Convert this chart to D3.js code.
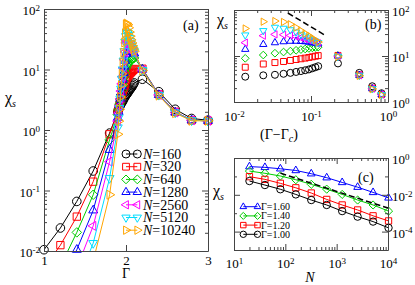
<!DOCTYPE html>
<html>
<head>
<meta charset="utf-8">
<script src="https://cdnjs.cloudflare.com/ajax/libs/d3/7.8.5/d3.min.js"></script>
<style>
  body { margin: 0; background: #fff; }
  svg, svg text { font-family: "Liberation Serif", "Times New Roman", serif; }
  .axis path, .axis line { stroke: #444; }
</style>
</head>
<body>
<div id="chart"></div>
<script>
// panel (a): chi_s vs Gamma for several N
var gammaA = [1.0, 1.2, 1.4, 1.6, 1.8,
    1.90, 1.91, 1.92, 1.93, 1.94, 1.95, 1.96, 1.97, 1.98, 1.99, 2.00,
    2.01, 2.02, 2.03, 2.04, 2.05, 2.06, 2.07, 2.08, 2.09, 2.10,
    2.2, 2.4, 2.6, 2.8, 3.0];
var sizesA = [160, 320, 640, 1280, 2560, 5120, 10240];
var chi160 = [0.0105, 0.024, 0.066, 0.21, 0.89, 2.0, 2.2, 2.4, 2.55, 2.7, 2.85, 3.0, 3.2, 3.4, 3.55, 3.8, 3.9, 4.1, 4.3, 4.5, 4.7, 4.9, 5.1, 5.4, 5.7, 6.0, 6.9, 4.3, 2.2, 1.55, 1.45];
var chi320 = [0.0052, 0.0125, 0.037, 0.14, 0.85, 2.0, 2.3, 2.6, 3.0, 3.4, 3.8, 4.3, 4.8, 5.3, 5.7, 6.7, 7.2, 7.6, 8.0, 8.4, 8.7, 9.0, 9.3, 9.6, 9.9, 10.2, 10.3, 3.9, 2.0, 1.45, 1.42];
var chi640 = [0.0028, 0.0056, 0.0203, 0.085, 0.69, 1.8, 2.2, 2.7, 3.2, 3.8, 4.5, 5.4, 6.4, 7.6, 8.9, 10.5, 11.5, 12.2, 12.8, 13.3, 13.8, 14.2, 14.6, 15.0, 15.3, 15.6, 10.2, 3.8, 1.95, 1.45, 1.42];
var chi1280 = [0.0013, 0.0028, 0.0105, 0.047, 0.47, 1.6, 2.0, 2.6, 3.3, 4.2, 5.3, 6.8, 8.8, 11.2, 14.0, 17.9, 19.5, 20.5, 21.0, 21.0, 20.8, 20.5, 20.0, 19.5, 19.0, 18.5, 10.0, 3.8, 1.95, 1.45, 1.42];
var chi2560 = [0.00065, 0.0015, 0.0052, 0.026, 0.30, 1.4, 1.9, 2.5, 3.3, 4.4, 5.8, 7.6, 10.5, 14.5, 19.5, 27.6, 29.5, 29.0, 28.0, 26.5, 25.0, 23.5, 22.0, 21.0, 20.0, 19.0, 9.8, 3.8, 1.95, 1.45, 1.42];
var chi5120 = [0.00035, 0.00072, 0.0028, 0.0135, 0.16, 1.1, 1.6, 2.3, 3.3, 4.8, 7.0, 10.0, 14.0, 20.0, 28.6, 35.5, 42.0, 40.0, 37.0, 33.0, 29.5, 27.0, 24.5, 22.5, 21.0, 19.5, 9.8, 3.8, 1.95, 1.45, 1.42];
var chi10240 = [0.00016, 0.00038, 0.0013, 0.0068, 0.085, 0.85, 1.4, 2.2, 3.5, 5.5, 8.5, 13.0, 19.0, 28.0, 39.6, 55.7, 57.5, 55.0, 49.0, 41.5, 35.5, 31.0, 27.5, 24.5, 22.0, 20.0, 9.6, 3.7, 1.9, 1.42, 1.42];
var chiA = [chi160, chi320, chi640, chi1280, chi2560, chi5120, chi10240];

// panel (b): same data against Gamma - Gamma_c
var gammaC = 1.976;
var dashBx = [0.05, 0.15];
var dashBy = [86, 28.7];

// panel (c): chi_s vs N at fixed Gamma
var nC = [20, 40, 80, 160, 320, 640, 1280, 2560, 5120, 10240];
var gammaLabels = ["1.60", "1.40", "1.20", "1.00"];
var chiG160 = [0.34, 0.31, 0.26, 0.21, 0.14, 0.085, 0.047, 0.026, 0.0135, 0.0068];
var chiG140 = [0.195, 0.148, 0.105, 0.066, 0.037, 0.0203, 0.0105, 0.0052, 0.0028, 0.0013];
var chiG120 = [0.097, 0.069, 0.042, 0.024, 0.0125, 0.0056, 0.0028, 0.0015, 0.00072, 0.00038];
var chiG100 = [0.056, 0.034, 0.020, 0.0105, 0.0052, 0.0028, 0.0013, 0.00065, 0.00035, 0.00016];
var chiC = [chiG160, chiG140, chiG120, chiG100];
var dashCx = [80, 10000];
var dashCy = [0.15, 0.0019];

// styles
var serif = "'Liberation Serif', 'Times New Roman', serif";
var colorsA = ["#000000", "#ff0000", "#00cc00", "#0000ff", "#ff00ff", "#00ddff", "#ffa500"];
var shapesA = ["circle", "square", "diamond", "up", "left", "down", "right"];
var colorsC = ["#0000ff", "#00cc00", "#ff0000", "#000000"];
var shapesC = ["up", "diamond", "square", "circle"];

function symPath(type, r) {
    if (type == "circle")
        return "M" + (-r) + ",0A" + r + "," + r + " 0 1,0 " + r + ",0A" + r + "," + r + " 0 1,0 " + (-r) + ",0Z";
    if (type == "square") {
        var s = r * 0.85;
        return "M" + (-s) + "," + (-s) + "H" + s + "V" + s + "H" + (-s) + "Z";
    }
    if (type == "diamond") {
        var q = r * 1.1;
        return "M0," + (-q) + "L" + q + ",0L0," + q + "L" + (-q) + ",0Z";
    }
    var rot = { up: 0, right: 90, down: 180, left: 270 }[type];
    var R = r * 1.2, pts = [];
    [-90, 30, 150].forEach(function (a) {
        var t = (a + rot) * Math.PI / 180;
        pts.push((R * Math.cos(t)).toFixed(2) + "," + (R * Math.sin(t)).toFixed(2));
    });
    return "M" + pts.join("L") + "Z";
}

function minorLog(domain) {
    var out = [];
    for (var e = Math.floor(Math.log10(domain[0])); e < Math.ceil(Math.log10(domain[1])); e++)
        for (var k = 2; k <= 9; k++) out.push(k * Math.pow(10, e));
    return out;
}

function powTen(g, dy) {
    g.selectAll(".tick text").each(function (d) {
        var t = d3.select(this);
        t.text("10").attr("dy", dy);
        t.append("tspan").attr("dy", "-0.5em").style("font-size", "9px")
            .text(Math.round(Math.log10(d)));
    });
}

var svg = d3.select("#chart").append("svg")
    .attr("width", 415)
    .attr("height", 285)
    .attr("font-family", serif);

// one side of a panel frame, ticks pointing inward
function side(axis, t, major, minor, labels, pad, fmt, dy) {
    if (minor) {
        var gm = svg.append("g").attr("class", "axis").attr("transform", t)
            .call(axis.tickValues(minor).tickSize(-3).tickSizeOuter(0).tickFormat(""));
        gm.select(".domain").remove();
    }
    axis.tickValues(major).tickSize(-6).tickSizeOuter(0).tickPadding(pad)
        .tickFormat(labels ? fmt : "");
    var g = svg.append("g").attr("class", "axis").attr("transform", t).call(axis);
    g.attr("font-family", serif).attr("font-size", "13px");
    g.selectAll(".tick text").attr("fill", "#000");
    if (labels && dy) powTen(g, dy);
    else g.selectAll(".tick text").attr("dy", "0.71em");
}

function frame(x, y, o) {
    var xl = x.range()[0], xr = x.range()[1], yt = y.range()[1], yb = y.range()[0];
    side(d3.axisBottom(x), "translate(0," + yb + ")", o.xMajor, o.xMinor, true, o.xPad, o.xFormat, o.xLog ? "0.71em" : null);
    side(d3.axisTop(x), "translate(0," + yt + ")", o.xMajor, o.xMinor, false, 3, null, null);
    side(d3.axisLeft(y), "translate(" + xl + ",0)", o.yMajor, o.yMinor, !o.yRight, 4, null, "0.45em");
    side(d3.axisRight(y), "translate(" + xr + ",0)", o.yMajor, o.yMinor, !!o.yRight, 4, null, "0.45em");
}

// clip region for connecting lines
svg.append("defs").append("clipPath").attr("id", "clipA").append("rect")
    .attr("x", 44).attr("y", 9).attr("width", 164).attr("height", 242);

// ---------- panel (a) ----------
var ax = d3.scaleLinear().domain([1, 3]).range([44, 208]);
var ay = d3.scaleLog().domain([1e-2, 1e2]).range([251, 9]);

var lineA = d3.line()
    .x(function (d) { return ax(d[0]); })
    .y(function (d) { return ay(d[1]); });

chiA.forEach(function (vals, i) {
    var pts = gammaA.map(function (g, j) { return [g, vals[j]]; });
    svg.append("path")
        .attr("d", lineA(pts))
        .attr("clip-path", "url(#clipA)")
        .attr("fill", "none")
        .attr("stroke", colorsA[i])
        .attr("stroke-width", 1);
    svg.append("g").selectAll("path")
        .data(pts.filter(function (d) { return d[1] >= 0.0099; }))
        .enter().append("path")
        .attr("transform", function (d) { return "translate(" + ax(d[0]) + "," + ay(d[1]) + ")"; })
        .attr("d", symPath(shapesA[i], 4.3))
        .attr("fill", "none")
        .attr("stroke", colorsA[i])
        .attr("stroke-width", 1);
});

frame(ax, ay, {
    xMajor: [1, 2, 3], xPad: 5, xFormat: d3.format("d"),
    yMajor: [1e-2, 1e-1, 1, 10, 100], yMinor: minorLog([1e-2, 1e2])
});

// legend (a)
sizesA.forEach(function (n, i) {
    var yy = 154 + i * 12.7;
    svg.append("line").attr("x1", 126).attr("x2", 137.3).attr("y1", yy).attr("y2", yy)
        .attr("stroke", colorsA[i]).attr("stroke-width", 1);
    [126, 137.3].forEach(function (xx) {
        svg.append("path").attr("transform", "translate(" + xx + "," + yy + ")")
            .attr("d", symPath(shapesA[i], 4)).attr("fill", "none")
            .attr("stroke", colorsA[i]).attr("stroke-width", 1);
    });
    var t = svg.append("text").attr("x", 143).attr("y", yy + 4.7).style("font-size", "14px");
    t.append("tspan").style("font-style", "italic").text("N");
    t.append("tspan").text("=" + n);
});

svg.append("text").attr("x", 183).attr("y", 30).style("font-size", "14px").text("(a)");
svg.append("text").attr("x", 126).attr("y", 278).attr("text-anchor", "middle")
    .style("font-size", "14px").text("Γ");
var ya = svg.append("text").attr("x", 5).attr("y", 103).style("font-size", "16px");
ya.append("tspan").text("χ");
ya.append("tspan").attr("dy", 4).style("font-size", "10px").style("font-style", "italic").text("s");

// ---------- panel (b) ----------
var bx = d3.scaleLog().domain([1e-2, 1]).range([234, 388]);
var by = d3.scaleLog().domain([1, 100]).range([102, 10]);

chiA.forEach(function (vals, i) {
    var pts = [];
    gammaA.forEach(function (g, j) {
        var dx = +(g - gammaC).toFixed(3);
        if (dx >= 0.01 && dx <= 1) pts.push([dx, vals[j]]);
    });
    svg.append("g").selectAll("path")
        .data(pts)
        .enter().append("path")
        .attr("transform", function (d) { return "translate(" + bx(d[0]) + "," + by(d[1]) + ")"; })
        .attr("d", symPath(shapesA[i], 3.5))
        .attr("fill", "none")
        .attr("stroke", colorsA[i])
        .attr("stroke-width", 1);
});

svg.append("line")
    .attr("x1", bx(dashBx[0])).attr("y1", by(dashBy[0]))
    .attr("x2", bx(dashBx[1])).attr("y2", by(dashBy[1]))
    .attr("stroke", "#000").attr("stroke-width", 1.5).attr("stroke-dasharray", "6,3");

frame(bx, by, {
    xMajor: [1e-2, 1e-1, 1], xMinor: minorLog([1e-2, 1]), xPad: 10, xLog: true,
    yMajor: [1, 10, 100], yMinor: minorLog([1, 100]), yRight: true
});

svg.append("text").attr("x", 365).attr("y", 29).style("font-size", "14px").text("(b)");
var xb = svg.append("text").attr("x", 279).attr("y", 139).attr("text-anchor", "middle")
    .style("font-size", "14px");
xb.append("tspan").text("(Γ−Γ");
xb.append("tspan").attr("dy", 3).style("font-size", "10px").style("font-style", "italic").text("c");
xb.append("tspan").attr("dy", -3).text(")");
var yb = svg.append("text").attr("x", 217).attr("y", 25).style("font-size", "16px");
yb.append("tspan").text("χ");
yb.append("tspan").attr("dy", 4).style("font-size", "10px").style("font-style", "italic").text("s");

// ---------- panel (c) ----------
var cx = d3.scaleLog().domain([10, 1e4]).range([234, 388]);
var cy = d3.scaleLog().domain([1e-5, 1]).range([250, 158]);

var lineC = d3.line()
    .x(function (d) { return cx(d[0]); })
    .y(function (d) { return cy(d[1]); });

chiC.forEach(function (vals, i) {
    var pts = nC.map(function (n, j) { return [n, vals[j]]; });
    svg.append("path")
        .attr("d", lineC(pts))
        .attr("fill", "none")
        .attr("stroke", colorsC[i])
        .attr("stroke-width", 1);
    svg.append("g").selectAll("path")
        .data(pts)
        .enter().append("path")
        .attr("transform", function (d) { return "translate(" + cx(d[0]) + "," + cy(d[1]) + ")"; })
        .attr("d", symPath(shapesC[i], 3.7))
        .attr("fill", "none")
        .attr("stroke", colorsC[i])
        .attr("stroke-width", 1);
});

svg.append("line")
    .attr("x1", cx(dashCx[0])).attr("y1", cy(dashCy[0]))
    .attr("x2", cx(dashCx[1])).attr("y2", cy(dashCy[1]))
    .attr("stroke", "#000").attr("stroke-width", 1.5).attr("stroke-dasharray", "6,3");

frame(cx, cy, {
    xMajor: [10, 100, 1000, 10000], xMinor: minorLog([10, 1e4]), xPad: 9, xLog: true,
    yMajor: [1e-4, 1e-2, 1], yMinor: [1e-5, 1e-3, 1e-1], yRight: true
});

// legend (c)
gammaLabels.forEach(function (lab, i) {
    var yy = 206.7 + i * 9.2;
    svg.append("line").attr("x1", 243.3).attr("x2", 257.5).attr("y1", yy).attr("y2", yy)
        .attr("stroke", colorsC[i]).attr("stroke-width", 1);
    [243.3, 257.5].forEach(function (xx) {
        svg.append("path").attr("transform", "translate(" + xx + "," + yy + ")")
            .attr("d", symPath(shapesC[i], 3.2)).attr("fill", "none")
            .attr("stroke", colorsC[i]).attr("stroke-width", 1);
    });
    svg.append("text").attr("x", 261).attr("y", yy + 3.4).style("font-size", "10px")
        .text("Γ=" + lab);
});

svg.append("text").attr("x", 358).attr("y", 182).style("font-size", "14px").text("(c)");
svg.append("text").attr("x", 310).attr("y", 282).attr("text-anchor", "middle")
    .style("font-size", "14px").style("font-style", "italic").text("N");
var yc = svg.append("text").attr("x", 213).attr("y", 196).style("font-size", "16px");
yc.append("tspan").text("χ");
yc.append("tspan").attr("dy", 4).style("font-size", "10px").style("font-style", "italic").text("s");
</script>
</body>
</html>
